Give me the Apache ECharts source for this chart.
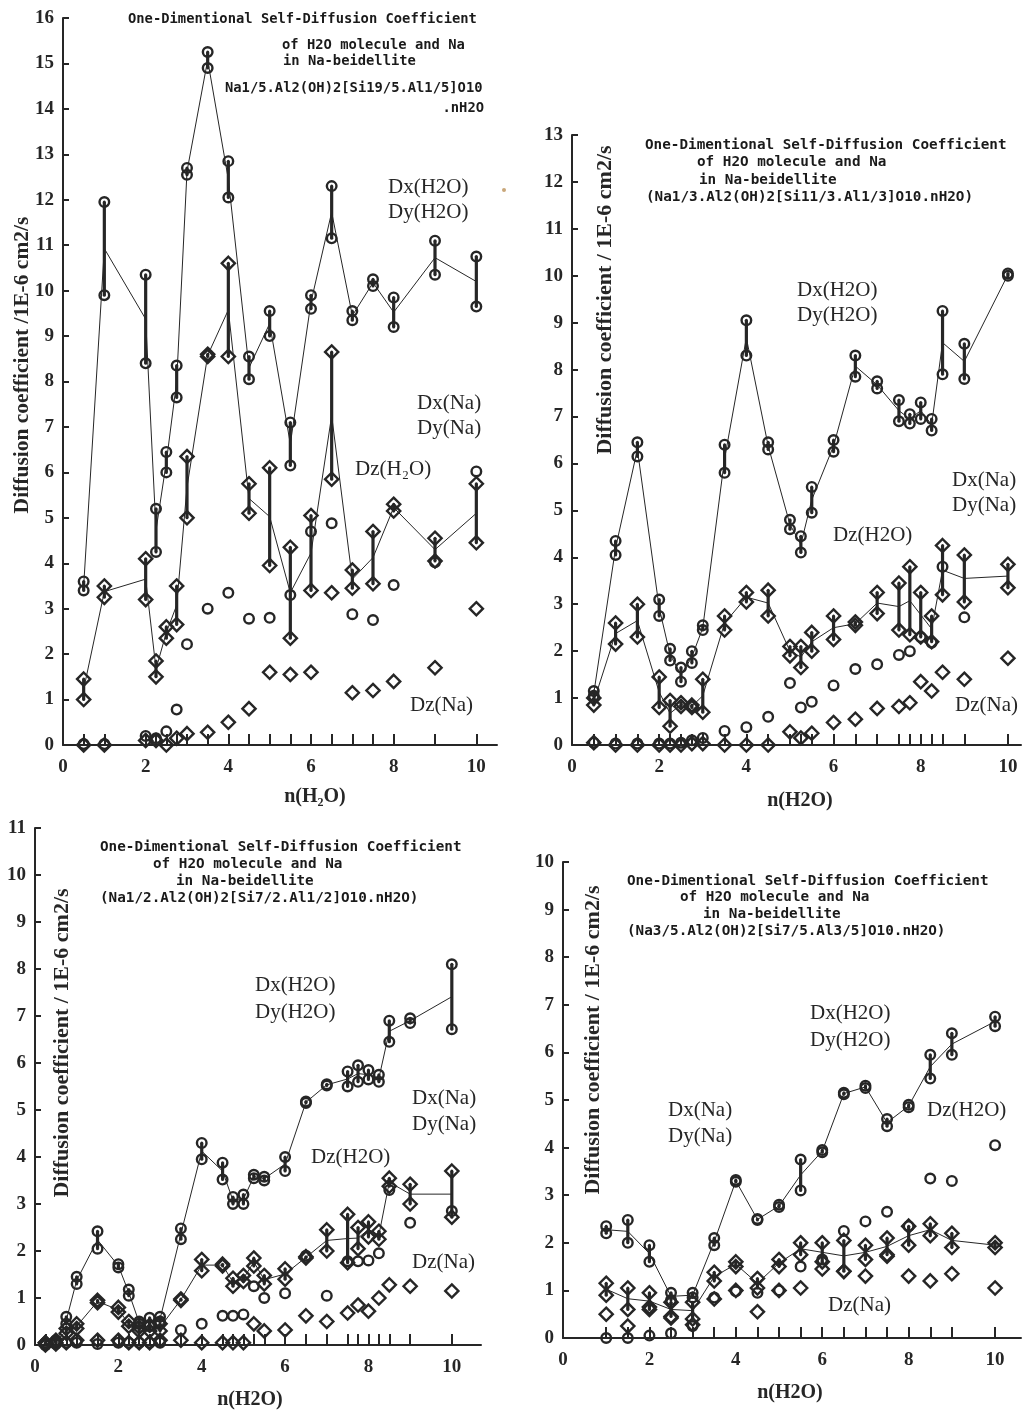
<!DOCTYPE html>
<html lang="en">
<head>
<meta charset="UTF-8">
<title>One-Dimentional Self-Diffusion Coefficient</title>
<script src="https://cdn.jsdelivr.net/npm/echarts@6/dist/echarts.min.js"></script>
<style>
  html, body { margin: 0; background: #fff; }
  #main { width: 1026px; height: 1414px; }
</style>
</head>
<body>
<div id="main"></div>
<script>
// ---- data ----
const xTickLabels = [0, 2, 4, 6, 8, 10];

// panel A : Na1/5 beidellite
const nA = [0.5, 1, 2, 2.25, 2.5, 2.75, 3, 3.5, 4, 4.5, 5, 5.5, 6, 6.5, 7, 7.5, 8, 9, 10];
const dxH2O_A = [3.6, 11.95, 10.35, 5.2, 6.45, 8.35, 12.7, 15.25, 12.85, 8.55, 9.55, 7.1, 9.9, 12.3, 9.55, 10.25, 9.85, 11.1, 10.75];
const dyH2O_A = [3.4, 9.9, 8.4, 4.25, 6.0, 7.65, 12.55, 14.9, 12.05, 8.05, 9.0, 6.15, 9.6, 11.15, 9.35, 10.1, 9.2, 10.35, 9.65];
const dxNa_A = [1.45, 3.5, 4.1, 1.85, 2.6, 3.5, 6.35, 8.6, 10.6, 5.75, 6.1, 4.35, 5.05, 8.65, 3.85, 4.7, 5.3, 4.55, 5.75];
const dyNa_A = [1.0, 3.25, 3.2, 1.5, 2.35, 2.65, 5.0, 8.55, 8.55, 5.1, 3.95, 2.35, 3.4, 5.85, 3.45, 3.55, 5.15, 4.05, 4.45];
const dzH2O_A = [0.02, 0.02, 0.2, 0.15, 0.3, 0.78, 2.22, 3.0, 3.35, 2.78, 2.8, 3.3, 4.7, 4.88, 2.88, 2.75, 3.52, 4.02, 6.02];
const dzNa_A = [0, 0, 0.1, 0.1, 0, 0.15, 0.25, 0.28, 0.5, 0.8, 1.6, 1.55, 1.6, 3.35, 1.15, 1.2, 1.4, 1.7, 3.0];

// panel B : Na1/3 beidellite
const nB = [0.5, 1, 1.5, 2, 2.25, 2.5, 2.75, 3, 3.5, 4, 4.5, 5, 5.25, 5.5, 6, 6.5, 7, 7.5, 7.75, 8, 8.25, 8.5, 9, 10];
const dxH2O_B = [1.15, 4.35, 6.45, 3.1, 2.05, 1.65, 2.0, 2.55, 6.4, 9.05, 6.45, 4.8, 4.45, 5.5, 6.5, 8.3, 7.75, 7.35, 7.05, 7.3, 6.95, 9.25, 8.55, 10.05];
const dyH2O_B = [1.05, 4.05, 6.15, 2.75, 1.8, 1.35, 1.75, 2.45, 5.8, 8.3, 6.3, 4.6, 4.1, 4.95, 6.25, 7.85, 7.6, 6.9, 6.85, 6.95, 6.7, 7.9, 7.8, 10.0];
const dxNa_B = [1.0, 2.6, 3.0, 1.45, 0.95, 0.9, 0.85, 1.4, 2.75, 3.25, 3.3, 2.1, 2.1, 2.4, 2.75, 2.62, 3.25, 3.45, 3.8, 3.25, 2.75, 4.25, 4.05, 3.85];
const dyNa_B = [0.85, 2.15, 2.3, 0.8, 0.4, 0.82, 0.8, 0.7, 2.45, 3.05, 2.75, 1.9, 1.65, 2.0, 2.25, 2.55, 2.8, 2.45, 2.35, 2.3, 2.2, 3.2, 3.05, 3.35];
const dzH2O_B = [0.05, 0.03, 0.03, 0.03, 0.03, 0.05, 0.1, 0.15, 0.3, 0.38, 0.6, 1.32, 0.8, 0.92, 1.27, 1.62, 1.72, 1.92, 2.0, 2.3, 2.18, 3.8, 2.72, null];
const dzNa_B = [0.05, 0, 0, 0, 0, 0, 0.03, 0.03, 0, 0, 0, 0.28, 0.15, 0.25, 0.48, 0.55, 0.78, 0.82, 0.9, 1.35, 1.15, 1.55, 1.4, 1.85];

// panel C : Na1/2 beidellite
const nC = [0.25, 0.5, 0.75, 1, 1.5, 2, 2.25, 2.5, 2.75, 3, 3.5, 4, 4.5, 4.75, 5, 5.25, 5.5, 6, 6.5, 7, 7.5, 7.75, 8, 8.25, 8.5, 9, 10];
const dxH2O_C = [0.05, 0.1, 0.6, 1.45, 2.42, 1.72, 1.18, 0.5, 0.58, 0.6, 2.48, 4.3, 3.88, 3.15, 3.2, 3.62, 3.58, 4.0, 5.18, 5.55, 5.82, 5.95, 5.85, 5.75, 6.9, 6.95, 8.1];
const dyH2O_C = [0.0, 0.05, 0.45, 1.3, 2.05, 1.65, 1.05, 0.45, 0.4, 0.5, 2.25, 3.95, 3.52, 3.0, 3.0, 3.55, 3.5, 3.7, 5.15, 5.52, 5.5, 5.6, 5.65, 5.6, 6.45, 6.85, 6.72];
const dxNa_C = [0.05, 0.1, 0.35, 0.45, 0.95, 0.8, 0.5, 0.38, 0.42, 0.45, 0.98, 1.82, 1.72, 1.42, 1.48, 1.85, 1.48, 1.62, 1.88, 2.45, 2.78, 2.5, 2.62, 2.42, 3.55, 3.42, 3.7];
const dyNa_C = [0.0, 0.05, 0.25, 0.35, 0.9, 0.7, 0.4, 0.3, 0.3, 0.3, 0.95, 1.58, 1.68, 1.25, 1.35, 1.68, 1.3, 1.4, 1.85, 2.0, 1.75, 2.05, 2.3, 2.25, 3.38, 3.0, 2.72];
const dzH2O_C = [0.0, 0.02, 0.05, 0.05, 0.02, 0.05, 0.05, 0.05, 0.05, 0.05, 0.32, 0.45, 0.62, 0.62, 0.65, 1.25, 1.0, 1.1, 1.9, 1.05, 1.78, 1.78, 1.8, 1.95, 3.3, 2.6, 2.85];
const dzNa_C = [0.05, 0.02, 0.05, 0.1, 0.1, 0.1, 0.05, 0.05, 0.05, 0.1, 0.1, 0.05, 0.05, 0.05, 0.05, 0.45, 0.3, 0.32, 0.62, 0.5, 0.68, 0.85, 0.72, 1.0, 1.28, 1.25, 1.15];

// panel D : Na3/5 beidellite
const nD = [1, 1.5, 2, 2.5, 3, 3.5, 4, 4.5, 5, 5.5, 6, 6.5, 7, 7.5, 8, 8.5, 9, 10];
const dxH2O_D = [2.35, 2.48, 1.95, 0.95, 0.95, 2.1, 3.32, 2.5, 2.8, 3.75, 3.95, 5.15, 5.3, 4.6, 4.9, 5.95, 6.4, 6.75];
const dyH2O_D = [2.2, 2.0, 1.6, 0.8, 0.85, 1.95, 3.28, 2.48, 2.75, 3.1, 3.9, 5.12, 5.25, 4.45, 4.85, 5.45, 5.95, 6.55];
const dxNa_D = [1.15, 1.05, 0.95, 0.75, 0.75, 1.38, 1.6, 1.25, 1.65, 2.0, 2.0, 2.05, 1.95, 2.1, 2.35, 2.4, 2.2, 2.0];
const dyNa_D = [0.9, 0.6, 0.6, 0.45, 0.4, 1.2, 1.5, 1.05, 1.5, 1.75, 1.6, 1.4, 1.65, 1.75, 1.95, 2.15, 1.9, 1.9];
const dzH2O_D = [0.0, 0.0, 0.05, 0.1, 0.25, 0.85, 0.98, 0.95, 1.0, 1.5, 1.65, 2.25, 2.45, 2.65, 2.35, 3.35, 3.3, 4.05];
const dzNa_D = [0.5, 0.25, 0.65, 0.42, 0.28, 0.82, 1.0, 0.55, 1.0, 1.05, 1.45, 1.4, 1.3, 1.72, 1.3, 1.2, 1.35, 1.05];

// ---- layout ----
const ink = '#262626';
const serif = '"Liberation Serif", "Times New Roman", serif';
const mono = '"DejaVu Sans Mono", monospace';

const panels = [
  { grid: { left: 63, top: 18, width: 434, height: 727 }, xMax: 10.5, yMax: 16,
    n: nA, dxH: dxH2O_A, dyH: dyH2O_A, dxN: dxNa_A, dyN: dyNa_A, dzH: dzH2O_A, dzN: dzNa_A },
  { grid: { left: 572, top: 135, width: 449, height: 610 }, xMax: 10.3, yMax: 13,
    n: nB, dxH: dxH2O_B, dyH: dyH2O_B, dxN: dxNa_B, dyN: dyNa_B, dzH: dzH2O_B, dzN: dzNa_B },
  { grid: { left: 35, top: 828, width: 446, height: 517 }, xMax: 10.7, yMax: 11,
    n: nC, dxH: dxH2O_C, dyH: dyH2O_C, dxN: dxNa_C, dyN: dyNa_C, dzH: dzH2O_C, dzN: dzNa_C },
  { grid: { left: 563, top: 862, width: 458, height: 476 }, xMax: 10.6, yMax: 10,
    n: nD, dxH: dxH2O_D, dyH: dyH2O_D, dxN: dxNa_D, dyN: dyNa_D, dzH: dzH2O_D, dzN: dzNa_D }
];

function pts(n, vals) {
  return n.map((v, k) => [v, vals[k]]).filter(d => d[1] != null);
}

function barSeries(i, n, a, b) {
  return {
    type: 'custom', xAxisIndex: i, yAxisIndex: i, z: 2, silent: true,
    data: n.map((v, k) => [v, a[k], b[k]]),
    renderItem: (params, api) => {
      const p1 = api.coord([api.value(0), api.value(1)]);
      const p2 = api.coord([api.value(0), api.value(2)]);
      return { type: 'line', shape: { x1: p1[0], y1: p1[1], x2: p2[0], y2: p2[1] },
               style: { stroke: ink, lineWidth: 3.2 } };
    }
  };
}

function meanSeries(i, n, a, b) {
  return {
    type: 'line', xAxisIndex: i, yAxisIndex: i, z: 1, silent: true, symbol: 'none',
    data: n.map((v, k) => [v, (a[k] + b[k]) / 2]),
    lineStyle: { color: ink, width: 1 }
  };
}

function markSeries(i, data, shape, dot) {
  return {
    type: 'custom', xAxisIndex: i, yAxisIndex: i, z: 3, silent: true, data: data,
    renderItem: (params, api) => {
      const c = api.coord([api.value(0), api.value(1)]);
      const kids = [];
      if (shape === 'circle') {
        kids.push({ type: 'circle', shape: { cx: c[0], cy: c[1], r: 4.8 },
                    style: { fill: 'rgba(255,255,255,0)', stroke: ink, lineWidth: 2.4 } });
      } else {
        const h = 6.6;
        kids.push({ type: 'polygon',
                    shape: { points: [[c[0], c[1] - h], [c[0] + h, c[1]], [c[0], c[1] + h], [c[0] - h, c[1]]] },
                    style: { fill: 'rgba(255,255,255,0)', stroke: ink, lineWidth: 2.4 } });
      }
      if (dot) kids.push({ type: 'circle', shape: { cx: c[0], cy: c[1], r: 1.5 }, style: { fill: ink } });
      return { type: 'group', children: kids };
    }
  };
}

const option = {
  animation: false,
  backgroundColor: '#fff',
  grid: [], xAxis: [], yAxis: [], series: [], graphic: []
};

panels.forEach((p, i) => {
  option.grid.push(p.grid);
  option.xAxis.push({
    type: 'value', gridIndex: i, min: 0, max: p.xMax,
    axisLine: { lineStyle: { color: ink, width: 2 } },
    axisTick: { inside: true, length: 11, customValues: p.n, lineStyle: { color: ink, width: 2 } },
    axisLabel: { customValues: xTickLabels, margin: 13, color: ink, fontFamily: serif, fontWeight: 'bold', fontSize: 19 },
    splitLine: { show: false }
  });
  option.yAxis.push({
    type: 'value', gridIndex: i, min: 0, max: p.yMax, interval: 1,
    axisLine: { show: true, lineStyle: { color: ink, width: 2 } },
    axisTick: { show: true, inside: true, length: 6, lineStyle: { color: ink, width: 2 } },
    axisLabel: { margin: 9, color: ink, fontFamily: serif, fontWeight: 'bold', fontSize: 19 },
    splitLine: { show: false }
  });
  option.series.push(
    meanSeries(i, p.n, p.dxH, p.dyH),
    meanSeries(i, p.n, p.dxN, p.dyN),
    barSeries(i, p.n, p.dxH, p.dyH),
    barSeries(i, p.n, p.dxN, p.dyN),
    markSeries(i, pts(p.n, p.dxH), 'circle', true),
    markSeries(i, pts(p.n, p.dyH), 'circle', true),
    markSeries(i, pts(p.n, p.dxN), 'diamond', true),
    markSeries(i, pts(p.n, p.dyN), 'diamond', true),
    markSeries(i, pts(p.n, p.dzH), 'circle', false),
    markSeries(i, pts(p.n, p.dzN), 'diamond', false)
  );
});

// ---- texts ----
function txt(x, y, s, font, extra) {
  return { type: 'text', x: x, y: y, z: 10, silent: true,
           style: Object.assign({ text: s, font: font, fill: ink, verticalAlign: 'middle' }, extra || {}) };
}
function vtxt(x, y, s, size) {
  return { type: 'text', x: x, y: y, rotation: Math.PI / 2, z: 10, silent: true,
           style: { text: s, font: 'bold ' + size + 'px ' + serif, fill: ink, align: 'center', verticalAlign: 'middle' } };
}
const lab = '21px ' + serif;
const xName = 'bold 20px ' + serif;
const titleA = 'bold 13.8px ' + mono;
const titleB = 'bold 14.3px ' + mono;
const tFill = { fill: '#1a1a1a' };

option.graphic.push(
  // panel A
  txt(128, 19, 'One-Dimentional Self-Diffusion Coefficient', titleA, tFill),
  txt(282, 45, 'of H2O molecule and Na', titleA, tFill),
  txt(283, 61, 'in Na-beidellite', titleA, tFill),
  txt(225, 88, 'Na1/5.Al2(OH)2[Si19/5.Al1/5]O10', titleA, tFill),
  txt(484, 108, '.nH2O', titleA, { align: 'right', fill: '#1a1a1a' }),
  txt(388, 187, 'Dx(H2O)', lab), txt(388, 212, 'Dy(H2O)', lab),
  txt(417, 403, 'Dx(Na)', lab), txt(417, 428, 'Dy(Na)', lab),
  txt(355, 469, 'Dz(H\u2082O)', lab), txt(410, 705, 'Dz(Na)', lab),
  vtxt(22, 365, 'Diffusion coefficient /1E-6 cm2/s', 21.5),
  txt(315, 797, 'n(H\u2082O)', xName, { align: 'center' }),
  { type: 'circle', shape: { cx: 504, cy: 190, r: 2 }, style: { fill: '#c9a77a' }, silent: true },
  // panel B
  txt(645, 145, 'One-Dimentional Self-Diffusion Coefficient', titleB, tFill),
  txt(697, 162, 'of H2O molecule and Na', titleB, tFill),
  txt(699, 180, 'in Na-beidellite', titleB, tFill),
  txt(646, 197, '(Na1/3.Al2(OH)2[Si11/3.Al1/3]O10.nH2O)', titleB, tFill),
  txt(797, 290, 'Dx(H2O)', lab), txt(797, 315, 'Dy(H2O)', lab),
  txt(952, 480, 'Dx(Na)', lab), txt(952, 505, 'Dy(Na)', lab),
  txt(833, 535, 'Dz(H2O)', lab), txt(955, 705, 'Dz(Na)', lab),
  vtxt(605, 300, 'Diffusion coefficient / 1E-6 cm2/s', 22),
  txt(800, 801, 'n(H2O)', xName, { align: 'center' }),
  // panel C
  txt(100, 847, 'One-Dimentional Self-Diffusion Coefficient', titleB, tFill),
  txt(153, 864, 'of H2O molecule and Na', titleB, tFill),
  txt(176, 881, 'in Na-beidellite', titleB, tFill),
  txt(100, 898, '(Na1/2.Al2(OH)2[Si7/2.Al1/2]O10.nH2O)', titleB, tFill),
  txt(255, 985, 'Dx(H2O)', lab), txt(255, 1012, 'Dy(H2O)', lab),
  txt(412, 1098, 'Dx(Na)', lab), txt(412, 1124, 'Dy(Na)', lab),
  txt(311, 1157, 'Dz(H2O)', lab), txt(412, 1262, 'Dz(Na)', lab),
  vtxt(62, 1043, 'Diffusion coefficient / 1E-6 cm2/s', 22),
  txt(250, 1400, 'n(H2O)', xName, { align: 'center' }),
  // panel D
  txt(627, 881, 'One-Dimentional Self-Diffusion Coefficient', titleB, tFill),
  txt(680, 897, 'of H2O molecule and Na', titleB, tFill),
  txt(703, 914, 'in Na-beidellite', titleB, tFill),
  txt(627, 931, '(Na3/5.Al2(OH)2[Si7/5.Al3/5]O10.nH2O)', titleB, tFill),
  txt(810, 1013, 'Dx(H2O)', lab), txt(810, 1040, 'Dy(H2O)', lab),
  txt(668, 1110, 'Dx(Na)', lab), txt(668, 1136, 'Dy(Na)', lab),
  txt(927, 1110, 'Dz(H2O)', lab), txt(828, 1305, 'Dz(Na)', lab),
  vtxt(593, 1040, 'Diffusion coefficient / 1E-6 cm2/s', 22),
  txt(790, 1393, 'n(H2O)', xName, { align: 'center' })
);

const chart = echarts.init(document.getElementById('main'));
chart.setOption(option);
</script>
</body>
</html>
